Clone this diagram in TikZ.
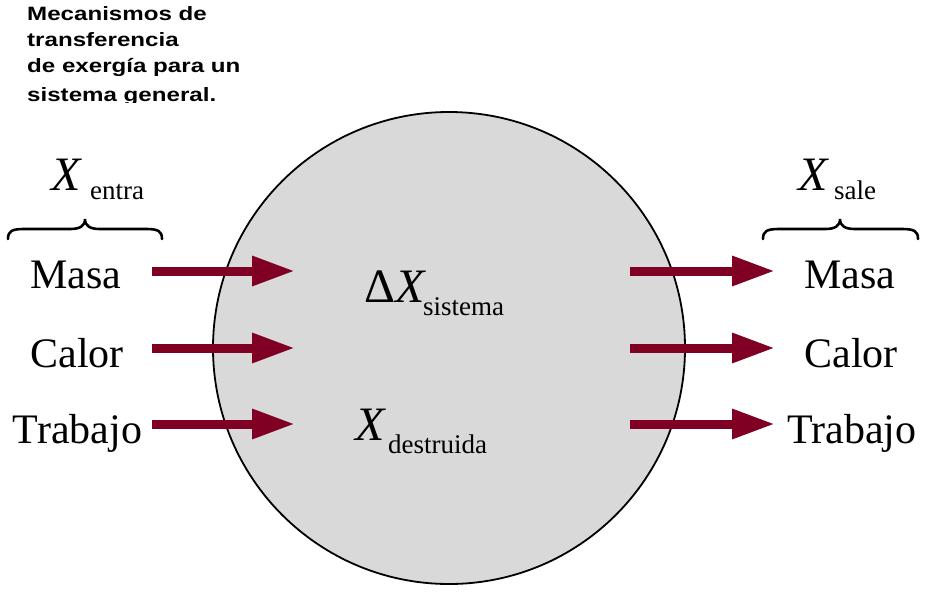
\documentclass[tikz,border=0pt]{standalone}
\usepackage{fontspec}
\setmainfont{Liberation Serif}
\newfontfamily\titlefont[FakeStretch=1.25]{Liberation Sans}
\usetikzlibrary{arrows.meta}
\definecolor{arrowred}{RGB}{128,0,36}
\definecolor{sysgray}{RGB}{217,217,217}
\begin{document}
\begin{tikzpicture}[x=1pt,y=-1pt,
  big/.style={font=\fontsize{42}{42}\selectfont, inner sep=0pt, anchor=base},
  bigx/.style={font=\fontsize{48}{48}\selectfont, inner sep=0pt, anchor=base west},
  sub/.style={font=\fontsize{27}{27}\selectfont, inner sep=0pt, anchor=base west},
  ttl/.style={font=\titlefont\bfseries\fontsize{19.3}{19.3}\selectfont, inner sep=0pt, anchor=base west},
  flow/.style={arrowred, line width=9pt, -{Triangle[length=43pt 0,width=28pt 0]}},
  bracestyle/.style={line width=2.6pt, line cap=round}
]
\useasboundingbox (0,0) rectangle (928,600);
% system
\node[circle, draw, line width=1.8pt, fill=sysgray, minimum size=472pt, inner sep=0pt] (sys) at (449,348) {};
% title
\begin{scope}
\clip (0,0) rectangle (928,102.5);
\node[ttl] (t1) at (27,20.5) {Mecanismos de};
\node[ttl] (t2) at (27,46.5) {transferencia};
\node[ttl] (t3) at (27,72.5) {de exergía para un};
\node[ttl] (t4) at (27,101) {sistema general.};
\end{scope}
% left labels
\node[big] (lm) at (76,288) {Masa};
\node[big] (lc) at (77,367) {Calor};
\node[big] (lt) at (77.5,443) {Trabajo};
% right labels
\node[big] (rm) at (850,288) {Masa};
\node[big] (rc) at (851,367) {Calor};
\node[big] (rt) at (852,443) {Trabajo};
% X entra / sale
\node[bigx] (xe) at (51,190) {\textit{X}};
\node[sub] (xes) at (90,199) {entra};
\node[bigx] (xs) at (798,190) {\textit{X}};
\node[sub] (xss) at (834,199) {sale};
% inside
\node[bigx] (dx) at (364,302) {Δ\textit{X}};
\node[sub] (dxs) at (423,315) {sistema};
\node[bigx] (xd) at (355,440) {\textit{X}};
\node[sub] (xds) at (388,453) {destruida};
% braces
\draw[bracestyle] (8,239) .. controls (8,231) and (12,229) .. (24,229) -- (70,229)
  .. controls (80,229) and (85,226) .. (85,219)
  .. controls (85,226) and (90,229) .. (100,229) -- (146,229)
  .. controls (158,229) and (162,231) .. (162,239);
\draw[bracestyle] (763,239) .. controls (763,231) and (767,229) .. (779,229) -- (825,229)
  .. controls (835,229) and (840,226) .. (840,219)
  .. controls (840,226) and (845,229) .. (855,229) -- (902,229)
  .. controls (914,229) and (918,231) .. (918,239);
% arrows
\coordinate (a1s) at (152,271); \coordinate (a1e) at (295,271);
\coordinate (a2s) at (152,348); \coordinate (a2e) at (295,348);
\coordinate (a3s) at (152,424); \coordinate (a3e) at (295,424);
\coordinate (b1s) at (630,271); \coordinate (b1e) at (775,271);
\coordinate (b2s) at (630,348); \coordinate (b2e) at (775,348);
\coordinate (b3s) at (630,424); \coordinate (b3e) at (775,424);
\draw[flow] (a1s) -- (a1e);
\draw[flow] (a2s) -- (a2e);
\draw[flow] (a3s) -- (a3e);
\draw[flow] (b1s) -- (b1e);
\draw[flow] (b2s) -- (b2e);
\draw[flow] (b3s) -- (b3e);
\end{tikzpicture}
\end{document}
